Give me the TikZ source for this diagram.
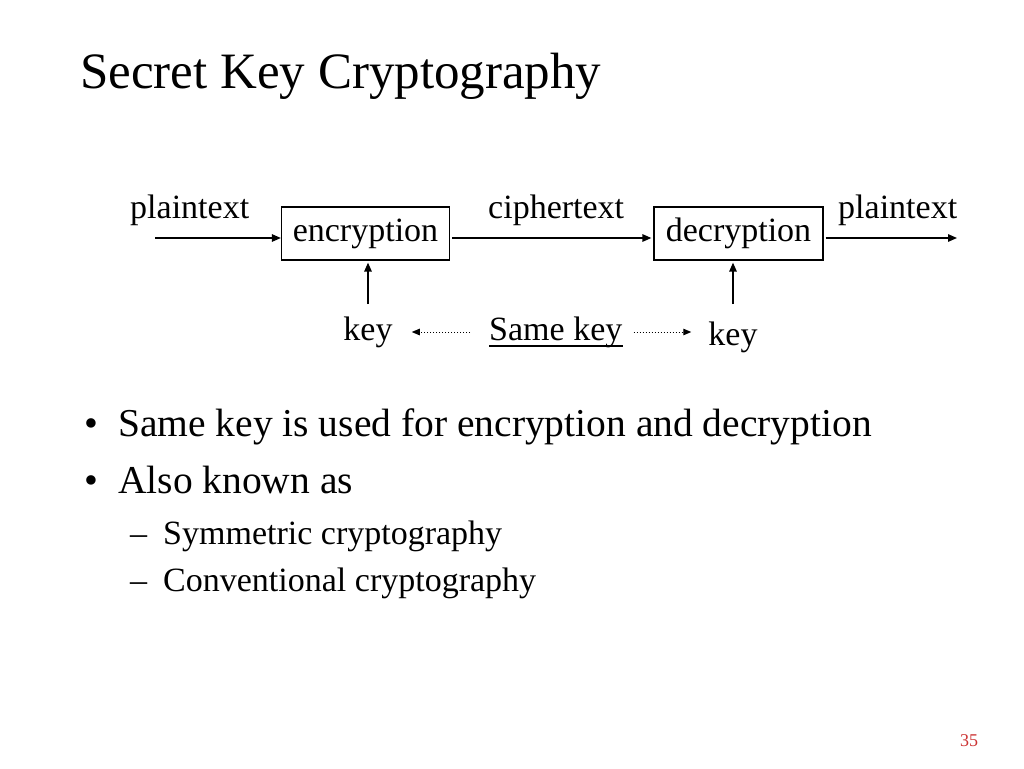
\documentclass[tikz,border=0pt]{standalone}
\usepackage{fontspec}
\setmainfont{Liberation Serif}
\usetikzlibrary{arrows.meta}
\definecolor{pgred}{RGB}{204,51,51}
\begin{document}
\begin{tikzpicture}[x=1pt,y=-1pt,
 txt/.style={inner sep=0pt, anchor=base west, font=\fontsize{34}{40}\selectfont},
 box/.style={draw, line width=1.3pt, inner sep=0pt, font=\fontsize{34}{40}\selectfont},
 arr/.style={line width=1.4pt, -{Triangle[length=9pt,width=7.5pt]}},
 darr/.style={line width=1pt, dotted, -{Triangle[length=8pt,width=6.5pt]}},
 lvone/.style={inner sep=0pt, anchor=base west, font=\fontsize{39.5}{46}\selectfont},
 lvtwo/.style={inner sep=0pt, anchor=base west, font=\fontsize{34}{40}\selectfont}]
\fill[white] (0,0) rectangle (1024,768);
\useasboundingbox (0,0) rectangle (1024,768);
% title
\node[inner sep=0pt, anchor=base west, font=\fontsize{51}{60}\selectfont] (title) at (80,88) {Secret Key Cryptography};
% diagram
\node[box, minimum width=168pt, minimum height=53pt] (enc) at (365.5,233.5) {encryption};
\node[box, minimum width=169pt, minimum height=53pt] (dec) at (738.5,233.5) {decryption};
\node[txt] (pt1) at (130,218) {plaintext};
\node[txt] (ct) at (488,218) {ciphertext};
\node[txt] (pt2) at (838,218) {plaintext};
\coordinate (in1) at (155,238);
\coordinate (out2) at (957,238);
\draw[arr] (in1) -- (in1 -| enc.west);
\draw[arr] ([xshift=2pt]enc.east |- in1) -- ([xshift=-2pt]dec.west |- in1);
\draw[arr] ([xshift=2pt]dec.east |- in1) -- (out2);
\node[txt, anchor=base] (k1) at (368,340) {key};
\node[txt, anchor=base] (k2) at (733,345) {key};
\node[txt] (same) at (489,340) {Same key};
\draw[line width=1.5pt] ([yshift=-6pt]same.base west) -- ([yshift=-6pt]same.base east);
\draw[arr] ([yshift=12pt]k1.north) -- ([yshift=-2pt]k1.north |- enc.south);
\draw[arr] ([yshift=17pt]k2.north) -- ([yshift=-2pt]k2.north |- dec.south);
\draw[darr] ([xshift=-19pt,yshift=8pt]same.base west) -- ([xshift=19pt,yshift=8pt]k1.base east);
\draw[darr] ([xshift=11pt,yshift=8pt]same.base east) -- ([xshift=-17pt,yshift=13pt]k2.base west);
% bullets
\node[lvone] (b1) at (84,436) {•};
\node[lvone] (t1) at (118,436) {Same key is used for encryption and decryption};
\node[lvone] (b2) at (84,493) {•};
\node[lvone] (t2) at (118,493) {Also known as};
\node[lvtwo] (d1) at (130,544) {–};
\node[lvtwo] (s1) at (163,544) {Symmetric cryptography};
\node[lvtwo] (d2) at (130,591) {–};
\node[lvtwo] (s2) at (163,591) {Conventional cryptography};
% page number
\node[inner sep=0pt, anchor=base west, text=pgred, font=\fontsize{18}{20}\selectfont] (pg) at (960,746) {35};
\end{tikzpicture}
\end{document}
